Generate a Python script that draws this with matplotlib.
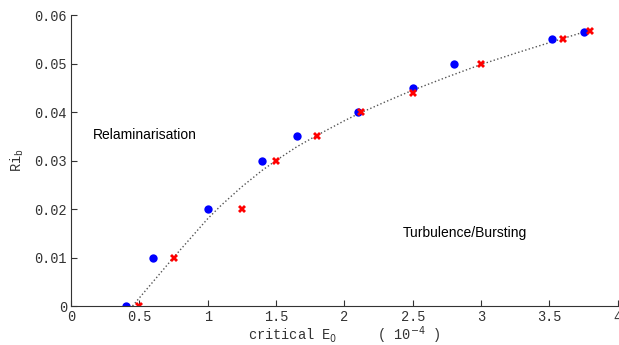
import matplotlib
matplotlib.use('Agg')
import matplotlib.pyplot as plt

# data
blueE = [0.4, 0.6, 1.0, 1.4, 1.65, 2.1, 2.5, 2.8, 3.52, 3.75]
blueRi = [0.0, 0.01, 0.02, 0.03, 0.035, 0.04, 0.045, 0.05, 0.055, 0.0565]
redE = [0.5, 0.75, 1.25, 1.5, 1.8, 2.12, 2.5, 3.0, 3.6, 3.8]
redRi = [0.0, 0.01, 0.02, 0.03, 0.035, 0.04, 0.044, 0.05, 0.055, 0.0567]
# dotted fit curve, read point by point
fitE = [0.45, 0.6, 0.75, 0.9, 1.0, 1.1, 1.25, 1.4, 1.5, 1.65, 1.8, 2.0, 2.1,
        2.3, 2.5, 2.75, 3.0, 3.25, 3.5, 3.65, 3.8]
fitRi = [0.0, 0.005, 0.01, 0.0148, 0.018, 0.0208, 0.0246, 0.028, 0.03, 0.0328,
         0.0352, 0.0382, 0.0396, 0.0421, 0.0445, 0.0472, 0.0498, 0.0521, 0.0543,
         0.0556, 0.0569]

xticks = [0, 0.5, 1, 1.5, 2, 2.5, 3, 3.5, 4]
xticklabels = ['0', '0.5', '1', '1.5', '2', '2.5', '3', '3.5', '4']
yticks = [0, 0.01, 0.02, 0.03, 0.04, 0.05, 0.06]
yticklabels = ['0', '0.01', '0.02', '0.03', '0.04', '0.05', '0.06']

mono = 'Liberation Mono'
sans = 'Liberation Sans'

fig = plt.figure(figsize=(6.19, 3.45), dpi=100)
ax = fig.add_axes([0.1147, 0.113, 0.8833, 0.8435])

ax.plot(fitE, fitRi, linestyle=':', color='#555555', linewidth=1.0)
ax.plot(blueE, blueRi, 'o', color='#0000ff', markersize=6, markeredgewidth=0)
ax.plot(redE, redRi, 'X', color='#ff0000', markersize=5.5, markeredgewidth=0)

ax.set_xlim(0, 4)
ax.set_ylim(0, 0.06)
ax.set_xticks(xticks)
ax.set_xticklabels(xticklabels, fontfamily=mono, fontsize=9.8)
ax.set_yticks(yticks)
ax.set_yticklabels(yticklabels, fontfamily=mono, fontsize=9.8)
ax.tick_params(direction='in', length=4, width=0.8, colors='#333333')
ax.tick_params(axis='x', pad=3)
ax.tick_params(axis='y', pad=3)

for s in ['top', 'right']:
    ax.spines[s].set_visible(False)
for s in ['left', 'bottom']:
    ax.spines[s].set_color('#333333')
    ax.spines[s].set_linewidth(0.8)

ax.set_xlabel(r'critical E$_0$     ( 10$^{-4}$ )', fontfamily=mono, fontsize=9.8,
              color='#333333', labelpad=0)
ax.set_ylabel(r'Ri$_\mathregular{b}$', fontfamily=mono, fontsize=9.8, color='#333333', labelpad=6)

ax.text(0.16, 0.0353, 'Relaminarisation', fontfamily=sans, fontsize=10, va='center', ha='left')
ax.text(2.43, 0.0150, 'Turbulence/Bursting', fontfamily=sans, fontsize=10, va='center', ha='left')

fig.savefig('out.png', dpi=100)
